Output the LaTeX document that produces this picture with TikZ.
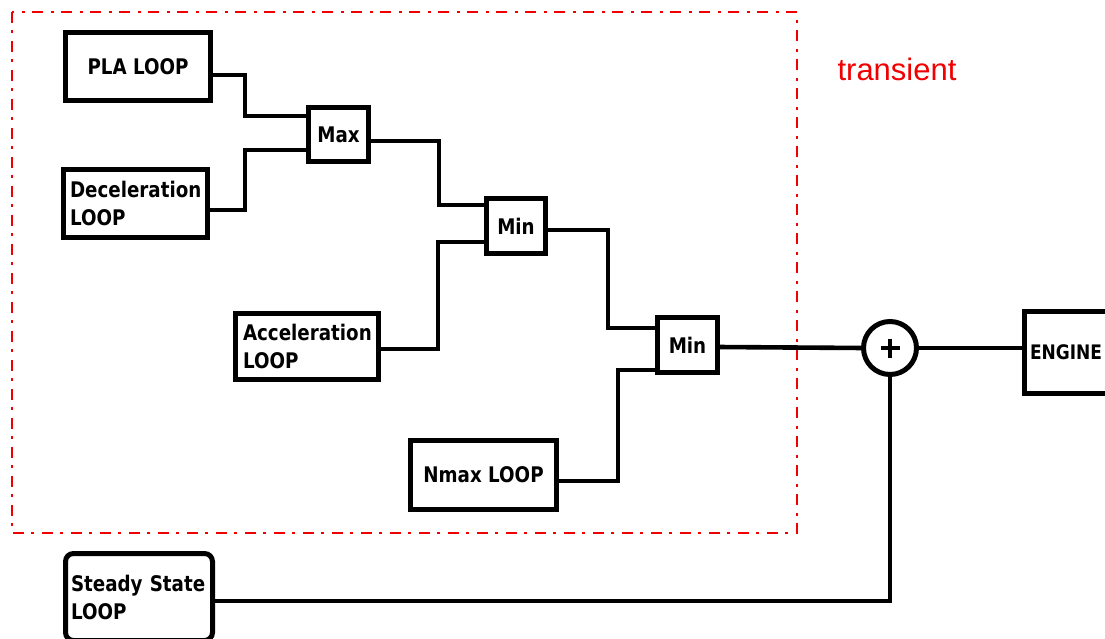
\documentclass[tikz,border=0pt]{standalone}
\usepackage{fontspec}
\newfontfamily\lblfont{DejaVu Sans}[FakeStretch=0.85]
\newfontfamily\redfont{Liberation Sans}
\usetikzlibrary{calc}
\definecolor{dashred}{RGB}{240,0,0}
\begin{document}
\begin{tikzpicture}[x=1pt,y=-1pt,
  box/.style={draw, line width=5pt, outer sep=0pt, inner sep=0pt, fill=white,
    font=\lblfont\bfseries\fontsize{21.5}{28}\selectfont},
  wire/.style={line width=4.6pt, line join=miter},
  region/.style={draw=dashred, line width=2.8pt, dash pattern=on 11pt off 7pt on 3pt off 8pt}]
\clip (0,0) rectangle (1105,639);
\fill[white] (0,0) rectangle (1105,639);

\draw[region] (12,12) rectangle (797,533);
\node[text=dashred, font=\redfont\fontsize{31}{31}\selectfont] (tr) at (897,69) {transient};

\node[box, minimum width=145pt, minimum height=68pt] (pla) at (138,66.5) {PLA LOOP};
\node[box, minimum width=144pt, minimum height=68pt, text width=131pt, align=left] (dec) at (135.5,203.5) {Deceleration\\LOOP};
\node[box, minimum width=60pt, minimum height=54pt] (max) at (338.5,134.5) {Max};
\node[box, minimum width=59pt, minimum height=55pt] (min1) at (516,226) {Min};
\node[box, minimum width=143pt, minimum height=66pt, text width=128pt, align=left] (acc) at (307,346.5) {Acceleration\\LOOP};
\node[box, minimum width=60pt, minimum height=55pt] (min2) at (687.5,345) {Min};
\node[box, minimum width=146pt, minimum height=69pt] (nmax) at (483.5,475) {Nmax LOOP};
\node[box, circle, minimum size=53pt,
  path picture={\draw[line width=4.5pt] ($(path picture bounding box.center)+(-9.5,0)$) -- ++(19,0)
    ($(path picture bounding box.center)+(0,-9.5)$) -- ++(0,19);}] (sum) at (890,348) {};
\node[box, minimum width=100pt, minimum height=82pt, text width=88pt, align=left,
  font=\lblfont\bfseries\fontsize{20}{28}\selectfont] (eng) at (1074,352.5) {ENGINE};
\node[box, rounded corners=8pt, minimum width=147pt, minimum height=87pt, text width=136pt, align=left] (ss) at (139,597) {Steady State\\LOOP};

\draw[wire] ([yshift=-8.5pt]pla.east) -- (245,75) -- (245,116) -- ([yshift=18.5pt]max.west);
\draw[wire] ([yshift=-6.5pt]dec.east) -- (245,210) -- (245,150) -- ([yshift=-15.5pt]max.west);
\draw[wire] ([yshift=-6.5pt]max.east) -- (439,141) -- (439,205) -- ([yshift=21pt]min1.west);
\draw[wire] ([yshift=-2.5pt]acc.east) -- (438,349) -- (438,242) -- ([yshift=-16pt]min1.west);
\draw[wire] ([yshift=-4pt]min1.east) -- (608,230) -- (608,328) -- ([yshift=17pt]min2.west);
\draw[wire] ([yshift=-6pt]nmax.east) -- (618,481) -- (618,370) -- ([yshift=-25pt]min2.west);
\draw[wire] ([yshift=-2pt]min2.east) -- (sum.west);
\draw[wire] (sum.east) -- (eng.west |- sum.east);
\draw[wire] ([yshift=-4pt]ss.east) -| (sum.south);
\end{tikzpicture}
\end{document}
